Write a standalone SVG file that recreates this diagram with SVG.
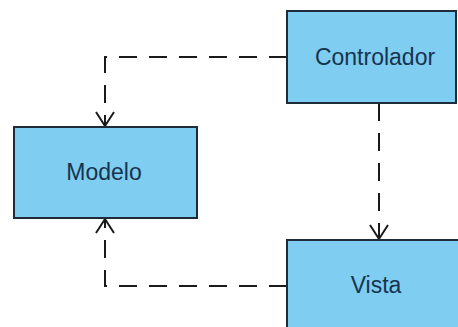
<svg xmlns="http://www.w3.org/2000/svg" width="458" height="327" viewBox="0 0 458 327">
  <style>
    .box { fill: #7fcdf1; stroke: #1e2c3a; stroke-width: 2; }
    .label { font-family: "Liberation Sans", Arial, sans-serif; font-size: 23px; fill: #17344f; text-anchor: middle; }
    .dep { fill: none; stroke: #1a1a1a; stroke-width: 2; stroke-dasharray: 18 12; }
  </style>
  <defs>
    <marker id="open-arrow" viewBox="0 0 20 20" refX="18" refY="10" markerWidth="20" markerHeight="20" markerUnits="userSpaceOnUse" orient="auto">
      <path d="M4,1 L18,10 L4,19" fill="none" stroke="#1a1a1a" stroke-width="2"/>
    </marker>
  </defs>
  <rect width="458" height="327" fill="#ffffff"/>

  <g id="connectors">
    <!-- Controlador -> Modelo -->
    <path class="dep" d="M287,57 H105 V126" marker-end="url(#open-arrow)"/>
    <!-- Controlador -> Vista -->
    <path class="dep" d="M379,103 V239" marker-end="url(#open-arrow)"/>
    <!-- Vista -> Modelo -->
    <path class="dep" d="M287,286 H105 V219" marker-end="url(#open-arrow)"/>
  </g>

  <g id="modelo">
    <rect class="box" x="14" y="127" width="183" height="91"/>
    <text class="label" x="104" y="180">Modelo</text>
  </g>

  <g id="controlador">
    <rect class="box" x="287" y="11" width="169" height="92"/>
    <text class="label" x="375" y="65">Controlador</text>
  </g>

  <g id="vista">
    <rect class="box" x="287" y="240" width="180" height="100"/>
    <text class="label" x="376" y="293">Vista</text>
  </g>
</svg>
